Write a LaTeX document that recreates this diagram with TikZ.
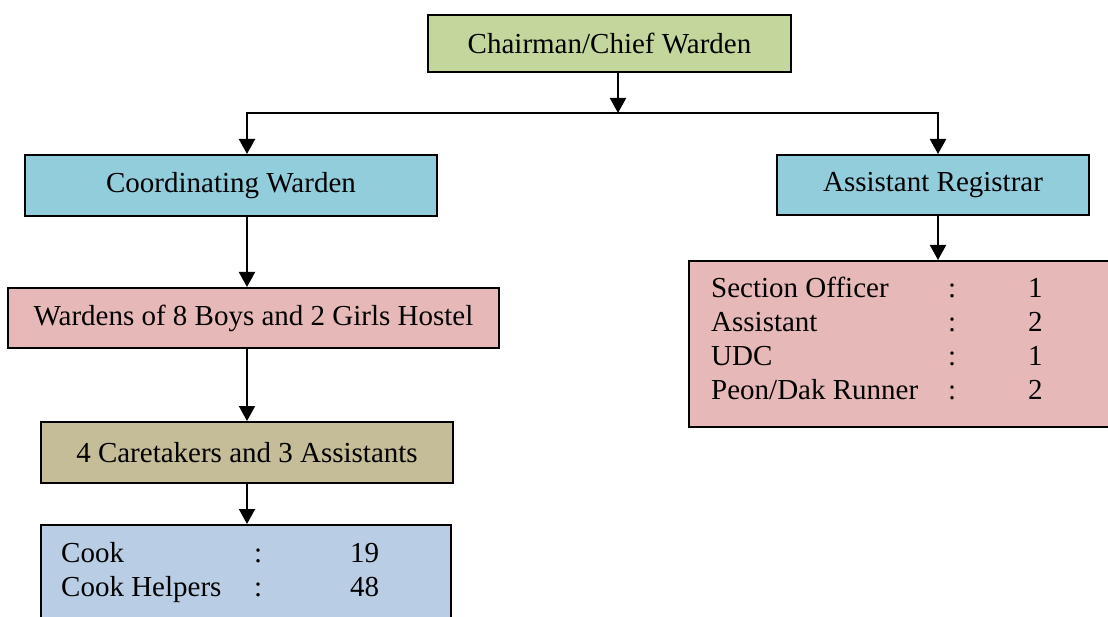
\documentclass[tikz,border=0pt]{standalone}
\usepackage{fontspec}
\setmainfont{Liberation Serif}
\usetikzlibrary{arrows.meta}

\definecolor{chairgreen}{HTML}{C3D69B}
\definecolor{headblue}{HTML}{92CDDC}
\definecolor{wardpink}{HTML}{E6B9B8}
\definecolor{caretan}{HTML}{C4BD97}
\definecolor{cookblue}{HTML}{B9CDE5}

\begin{document}
\begin{tikzpicture}[x=1pt,y=-1pt,
    every node/.style={font=\fontsize{29}{34}\selectfont},
    box/.style={draw,line width=2pt,inner sep=0pt},
    arr/.style={line width=2pt,-{Triangle[width=16pt,length=15pt]}}]

      \useasboundingbox (0,0) rectangle (1108,617);
      \clip (0,0) rectangle (1108,617);

      % The chairman at the top.
      \node [box,fill=chairgreen,minimum width=363pt,minimum height=57pt]
        (chair) at (609.5,43.5) {Chairman/Chief Warden};

      % The two heads below him.
      \node [box,fill=headblue,minimum width=412pt,minimum height=61pt]
        (coord) at (231,185.5) {Coordinating Warden};
      \node [box,fill=headblue,minimum width=312pt,minimum height=60pt]
        (asreg) at (933,185) {Assistant Registrar};

      % The left column.
      \node [box,fill=wardpink,minimum width=491pt,minimum height=60pt]
        (wardens) at (253.5,318) {Wardens of 8 Boys and 2 Girls Hostel};
      \node [box,fill=caretan,minimum width=412pt,minimum height=61pt]
        (care) at (247,452.5) {4 Caretakers and 3 Assistants};
      \node [box,fill=cookblue,minimum width=410pt,minimum height=115pt]
        (cook) at (246,582.5) {};
      \node [anchor=base west,inner sep=0pt] (cooklist) at (61,562)
        {\begin{tabular}[t]{@{}p{193pt}@{}p{96pt}@{}l@{}}
          Cook & : & 19\\
          Cook Helpers & : & 48
        \end{tabular}};

      % The office staff under the registrar.
      \node [box,fill=wardpink,minimum width=431pt,minimum height=166pt]
        (staff) at (904.5,344) {};
      \node [anchor=base west,inner sep=0pt] (stafflist) at (711,298)
        {\begin{tabular}[t]{@{}p{237pt}@{}p{80pt}@{}l@{}}
          Section Officer & : & 1\\
          Assistant & : & 2\\
          UDC & : & 1\\
          Peon/Dak Runner & : & 2
        \end{tabular}};

      % The spine of the chart.
      \coordinate (split) at (618,113);
      \coordinate (lcol) at (247,0);
      \coordinate (rcol) at (938,0);

      \draw [arr] (chair.south -| split) -- (split);
      \draw [arr] (split) -| (coord.north -| lcol);
      \draw [arr] (split) -| (asreg.north -| rcol);
      \draw [arr] (coord.south -| lcol) -- (wardens.north -| lcol);
      \draw [arr] (wardens.south -| lcol) -- (care.north -| lcol);
      \draw [arr] (care.south -| lcol) -- (cook.north -| lcol);
      \draw [arr] (asreg.south -| rcol) -- (staff.north -| rcol);

    \end{tikzpicture}
\end{document}
